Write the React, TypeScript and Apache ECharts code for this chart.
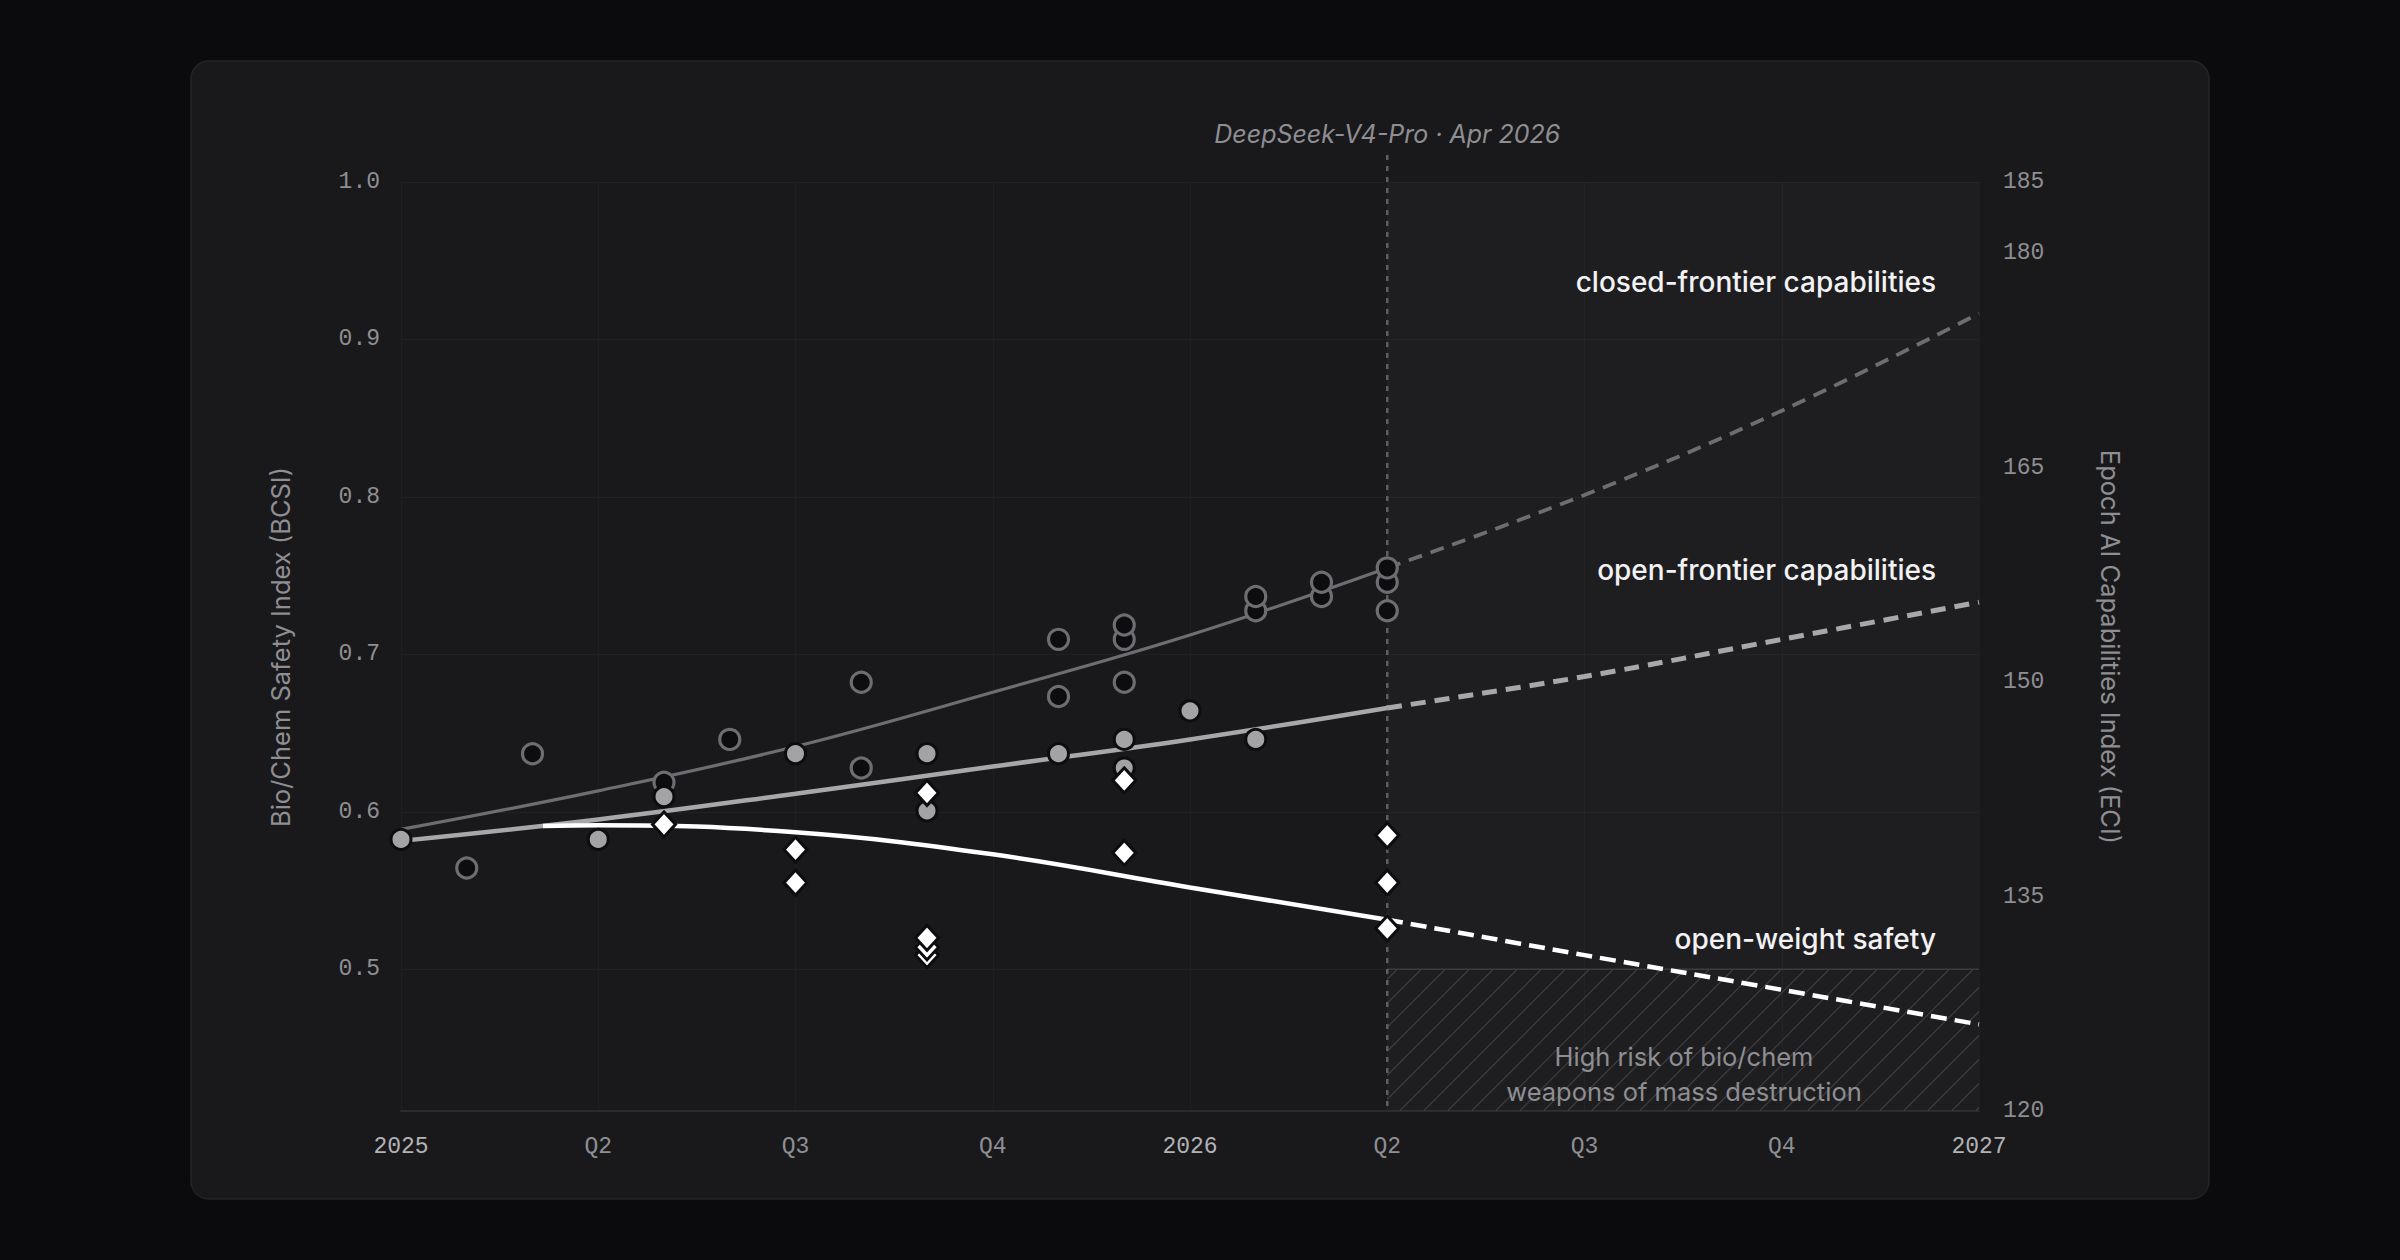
import React, { useEffect, useRef } from "react";
import * as echarts from "echarts";

// ---------- axes ----------
const X_MIN = 2025;
const X_MAX = 2027;
const X_STEP = 0.25;
const BCSI_MIN = 0.41;
const BCSI_MAX = 1.0;
const ECI_MIN = 120;
const ECI_MAX = 185;
const ECI_STEP = 15;

// ---------- data (month, value) ----------
// closed-frontier models, Epoch Capabilities Index (right axis)
const closedFrontierPoints: [string, number][] = [
  ["2025-02", 137], ["2025-03", 145], ["2025-05", 143], ["2025-06", 146],
  ["2025-08", 144], ["2025-08", 150], ["2025-11", 149], ["2025-11", 153],
  ["2025-12", 150], ["2025-12", 153], ["2025-12", 154], ["2026-02", 155],
  ["2026-02", 156], ["2026-03", 156], ["2026-03", 157], ["2026-04", 155],
  ["2026-04", 157], ["2026-04", 158],
];
// open-frontier models, ECI (right axis)
const openFrontierPoints: [string, number][] = [
  ["2025-01", 139], ["2025-04", 139], ["2025-05", 142], ["2025-07", 145],
  ["2025-09", 141], ["2025-09", 145], ["2025-11", 145], ["2025-12", 144],
  ["2025-12", 146], ["2026-01", 148], ["2026-02", 146],
];
// open-weight models, Bio/Chem Safety Index (left axis)
const openWeightSafetyPoints: [string, number][] = [
  ["2025-05", 0.592], ["2025-07", 0.555], ["2025-07", 0.576], ["2025-09", 0.509],
  ["2025-09", 0.514], ["2025-09", 0.52], ["2025-09", 0.612], ["2025-12", 0.574],
  ["2025-12", 0.62], ["2026-04", 0.526], ["2026-04", 0.555], ["2026-04", 0.585],
];

// ---------- trends ----------
const trendSolidX = [2025, 2025.25, 2025.5, 2025.75, 2026, 2026.25];
const trendProjX = [2026.25, 2026.5, 2026.75, 2027];
const closedTrendSolid = [139.7, 142.4, 145.5, 149.3, 153.3, 158.0];
const closedTrendProj = [158.0, 163.1, 169.0, 175.8];
const openTrendSolid = [138.9, 140.4, 142.2, 144.1, 146.0, 148.2];
const openTrendProj = [148.2, 150.4, 153.0, 155.6];
const safetyTrendSolidX = [2025.18, 2025.25, 2025.5, 2025.75, 2026, 2026.25];
const safetyTrendSolid = [0.591, 0.5915, 0.587, 0.573, 0.552, 0.5315];
const safetyTrendProj = [0.5315, 0.509, 0.487, 0.465];

// ---------- annotations ----------
const MARKER_X = 2026.25;
const MARKER_LABEL = "DeepSeek-V4-Pro · Apr 2026";
const RISK_THRESHOLD = 0.5;
const RISK_LABEL = ["High risk of bio/chem", "weapons of mass destruction"];
const SERIES_LABELS = ["closed-frontier capabilities", "open-frontier capabilities", "open-weight safety"];
const LEFT_TITLE = "Bio/Chem Safety Index (BCSI)";
const RIGHT_TITLE = "Epoch AI Capabilities Index (ECI)";

const toYear = (s: string) => {
  const [y, m] = s.split("-").map(Number);
  return y + (m - 1) / 12;
};
const pts = (arr: [string, number][]) => arr.map(([d, v]) => [toYear(d), v]);
const zip = (xs: number[], ys: number[]) => xs.map((x, i) => [x, ys[i]]);

const MONO = "'Liberation Mono', 'DejaVu Sans Mono', monospace";
const SANS = "Inter, 'Noto Sans', sans-serif";
const GREY = "#8e8e93";

export default function App() {
  const ref = useRef<HTMLDivElement>(null);
  useEffect(() => {
    if (!ref.current) return;
    const chart = echarts.init(ref.current, null, { renderer: "svg" });
    const option: any = {
      animation: false,
      backgroundColor: "#0b0b0d",
      textStyle: { fontFamily: SANS },
      graphic: [
        {
          type: "rect", z: -10, silent: true,
          shape: { x: 191, y: 61, width: 2018, height: 1138, r: 18 },
          style: { fill: "#19191b", stroke: "#242427", lineWidth: 1.5 },
        },
        {
          type: "text", x: 280, y: 647, rotation: Math.PI / 2, z: 10,
          style: { text: LEFT_TITLE, font: `25.5px ${SANS}`, fill: GREY, textAlign: "center", textVerticalAlign: "middle", align: "center", verticalAlign: "middle" },
        },
        {
          type: "text", x: 2110, y: 647, rotation: -Math.PI / 2, z: 10,
          style: { text: RIGHT_TITLE, font: `25.5px ${SANS}`, fill: GREY, textAlign: "center", textVerticalAlign: "middle", align: "center", verticalAlign: "middle" },
        },
        ...SERIES_LABELS.map((t, i) => ({
          type: "text", x: 1936, y: [282, 570, 939][i], z: 10,
          style: { text: t, font: `500 28px ${SANS}`, fill: "#f2f2f4", textAlign: "right", textVerticalAlign: "middle", align: "right", verticalAlign: "middle" },
        })),
        ...RISK_LABEL.map((t, i) => ({
          type: "text", x: 1684, y: [1056, 1091][i], z: 10,
          style: { text: t, font: `25.5px ${SANS}`, fill: GREY, textAlign: "center", textVerticalAlign: "middle", align: "center", verticalAlign: "middle" },
        })),
      ],
      grid: { left: 401, top: 182, width: 1578, height: 929, containLabel: false },
      xAxis: {
        type: "value", min: X_MIN, max: X_MAX, interval: X_STEP,
        axisLine: { show: true, lineStyle: { color: "#2b2b2e", width: 2 } },
        axisTick: { show: false },
        splitLine: { show: true, lineStyle: { color: "#1f1f22", width: 1 } },
        axisLabel: {
          margin: 24,
          formatter: (v: number) =>
            Number.isInteger(v) ? `{y|${v}}` : `{q|Q${Math.round((v - Math.floor(v)) * 4) + 1}}`,
          rich: {
            y: { color: "#b2b2b6", fontFamily: MONO, fontSize: 23 },
            q: { color: GREY, fontFamily: MONO, fontSize: 23 },
          },
        },
      },
      yAxis: [
        {
          type: "value", position: "left", min: BCSI_MIN, max: BCSI_MAX, splitNumber: 5,
          axisLine: { show: false }, axisTick: { show: false },
          splitLine: { show: true, lineStyle: { color: "#212124", width: 1 } },
          axisLabel: {
            showMinLabel: false, margin: 21, color: GREY, fontFamily: MONO, fontSize: 23,
            formatter: (v: number) => v.toFixed(1),
          },
        },
        {
          type: "value", position: "right", min: ECI_MIN, max: ECI_MAX, interval: ECI_STEP,
          axisLine: { show: false }, axisTick: { show: false }, splitLine: { show: false },
          axisLabel: { margin: 24, color: GREY, fontFamily: MONO, fontSize: 23 },
        },
      ],
      series: [
        {
          type: "custom", name: "risk", xAxisIndex: 0, yAxisIndex: 0, z: 1, silent: true, clip: false,
          data: [[MARKER_X, RISK_THRESHOLD]],
          renderItem: (params: any, api: any) => {
            const cs = params.coordSys;
            const tl = api.coord([api.value(0), api.value(1)]);
            const x0 = tl[0], y0 = tl[1], x1 = cs.x + cs.width, y1 = cs.y + cs.height;
            const children: any[] = [];
            const s = 24;
            for (let c = x0 + y0 + 10; c < x1 + y1; c += s) {
              const xa = Math.max(x0, c - y1);
              const xb = Math.min(x1, c - y0);
              if (xb <= xa) continue;
              children.push({
                type: "line",
                shape: { x1: xa, y1: c - xa, x2: xb, y2: c - xb },
                style: { stroke: "#3d3d41", lineWidth: 1.2 },
              });
            }
            children.push({
              type: "line",
              shape: { x1: x0, y1: y0, x2: x1, y2: y0 },
              style: { stroke: "#3c3c3f", lineWidth: 1.5 },
            });
            return { type: "group", children };
          },
        },
        {
          type: "custom", name: "marker", xAxisIndex: 0, yAxisIndex: 0, z: 2, silent: true, clip: false,
          data: [[MARKER_X, BCSI_MAX]],
          renderItem: (params: any, api: any) => {
            const cs = params.coordSys;
            const p = api.coord([api.value(0), api.value(1)]);
            return {
              type: "group",
              children: [
                {
                  type: "line",
                  shape: { x1: p[0], y1: p[1] - 27, x2: p[0], y2: cs.y + cs.height },
                  style: { stroke: "#5e5e62", lineWidth: 2.5, lineDash: [5, 6] },
                },
                {
                  type: "text", x: p[0], y: p[1] - 48,
                  style: {
                    text: MARKER_LABEL, font: `italic 25px ${SANS}`, fill: GREY,
                    textAlign: "center", textVerticalAlign: "middle", align: "center", verticalAlign: "middle",
                  },
                },
              ],
            };
          },
        },
        {
          type: "line", name: "closed trend", yAxisIndex: 1, z: 3, silent: true,
          data: zip(trendSolidX, closedTrendSolid), smooth: 0.4, showSymbol: false, symbol: "none",
          lineStyle: { color: "#6e6e72", width: 3.2 },
        },
        {
          type: "line", name: "closed proj", yAxisIndex: 1, z: 3, silent: true,
          data: zip(trendProjX, closedTrendProj), smooth: 0.4, showSymbol: false, symbol: "none",
          lineStyle: { color: "#6e6e72", width: 3.8, type: [14, 9] },
          markArea: {
            silent: true,
            itemStyle: { color: "rgba(255,255,255,0.025)" },
            data: [[{ xAxis: MARKER_X }, { xAxis: X_MAX }]],
          },
        },
        {
          type: "line", name: "open trend", yAxisIndex: 1, z: 3, silent: true,
          data: zip(trendSolidX, openTrendSolid), smooth: 0.4, showSymbol: false, symbol: "none",
          lineStyle: { color: "#a8a8ab", width: 4.5 },
        },
        {
          type: "line", name: "open proj", yAxisIndex: 1, z: 3, silent: true,
          data: zip(trendProjX, openTrendProj), smooth: 0.4, showSymbol: false, symbol: "none",
          lineStyle: { color: "#a8a8ab", width: 5, type: [15, 9] },
        },
        {
          type: "line", name: "safety trend", yAxisIndex: 0, z: 3, silent: true,
          data: zip(safetyTrendSolidX, safetyTrendSolid), smooth: 0.4, showSymbol: false, symbol: "none",
          lineStyle: { color: "#ffffff", width: 4.5 },
        },
        {
          type: "line", name: "safety proj", yAxisIndex: 0, z: 3, silent: true,
          data: zip(trendProjX, safetyTrendProj), smooth: 0.4, showSymbol: false, symbol: "none",
          lineStyle: { color: "#ffffff", width: 4.5, type: [16, 8] },
        },
        {
          type: "scatter", name: "closed-frontier", yAxisIndex: 1, z: 4, silent: true,
          data: pts(closedFrontierPoints), symbol: "circle", symbolSize: 20,
          itemStyle: { color: "#0d0d0f", borderColor: "#6e6e72", borderWidth: 3.2, opacity: 1 },
        },
        {
          type: "scatter", name: "open-frontier", yAxisIndex: 1, z: 5, silent: true,
          data: pts(openFrontierPoints), symbol: "circle", symbolSize: 20,
          itemStyle: { color: "#a3a3a6", borderColor: "#0d0d0f", borderWidth: 3, opacity: 1 },
        },
        {
          type: "scatter", name: "open-weight", yAxisIndex: 0, z: 6, silent: true,
          data: pts(openWeightSafetyPoints), symbol: "diamond", symbolSize: [23, 25],
          itemStyle: { color: "#ffffff", borderColor: "#0d0d0f", borderWidth: 3, opacity: 1 },
        },
      ],
    };
    chart.setOption(option);
    return () => chart.dispose();
  }, []);
  return (
    <div
      ref={ref}
      style={{ position: "fixed", left: 0, top: 0, width: 2400, height: 1260 }}
    />
  );
}
